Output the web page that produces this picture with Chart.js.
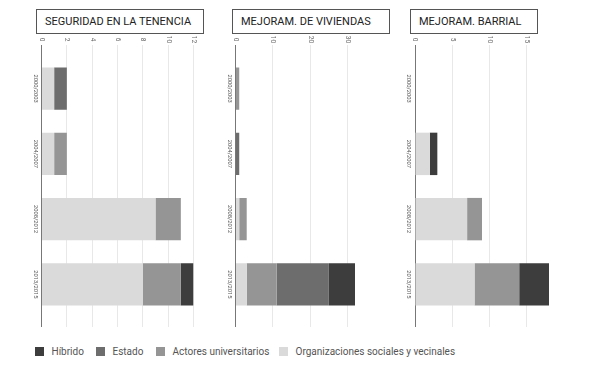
<!DOCTYPE html>
<html>
<head>
<meta charset="utf-8">
<script src="https://cdn.jsdelivr.net/npm/chart.js@4.4.1/dist/chart.umd.min.js"></script>
<style>
    body { margin: 0; background: #fff; width: 593px; height: 371px; overflow: hidden; position: relative; font-family: Roboto, sans-serif; }
    canvas { position: absolute; top: 0; }
    .title { position: absolute; top: 9px; height: 23px; border: 1px solid #555; box-sizing: content-box; color: #222; font-size: 11px; line-height: 23px; padding-left: 8px; white-space: nowrap; }
    .legend { position: absolute; top: 343px; font-size: 10px; color: #555; white-space: nowrap; }
    .legend span.box { position: absolute; top: 4px; width: 9px; height: 9px; }
    .legend span.txt { position: absolute; top: 0; line-height: 17px; }
</style>
</head>
<body>
<div class="title" style="left:36px; width:158px;">SEGURIDAD EN LA TENENCIA</div>
<div class="title" style="left:232px; width:148px;">MEJORAM. DE VIVIENDAS</div>
<div class="title" style="left:410px; width:118px;">MEJORAM. BARRIAL</div>

<canvas id="chartTenencia" width="210" height="340" style="left:0px; width:210px; height:340px;"></canvas>
<canvas id="chartViviendas" width="190" height="340" style="left:210px; width:190px; height:340px;"></canvas>
<canvas id="chartBarrial" width="193" height="340" style="left:400px; width:193px; height:340px;"></canvas>

<div class="legend" id="legend"></div>

<script>
const periods = ['2000/2003', '2004/2007', '2008/2012', '2013/2015'];
const seriesNames = ['Híbrido', 'Estado', 'Actores universitarios', 'Organizaciones sociales y vecinales'];
const seriesColors = ['#3d3d3d', '#6d6d6d', '#959595', '#dadada'];

// Seguridad en la tenencia
const tenenciaHibrido = [0, 0, 0, 1];
const tenenciaEstado = [1, 0, 0, 0];
const tenenciaActores = [0, 1, 2, 3];
const tenenciaOrganizaciones = [1, 1, 9, 8];

// Mejoramiento de viviendas
const viviendasHibrido = [0, 0, 0, 7];
const viviendasEstado = [0, 1, 0, 14];
const viviendasActores = [1, 0, 2, 8];
const viviendasOrganizaciones = [0, 0, 1, 3];

// Mejoramiento barrial
const barrialHibrido = [0, 1, 0, 4];
const barrialEstado = [0, 0, 0, 0];
const barrialActores = [0, 0, 2, 6];
const barrialOrganizaciones = [0, 2, 7, 8];

function rotatedText(ctx, text, x, y) {
    ctx.save();
    ctx.translate(x, y);
    ctx.rotate(Math.PI / 2);
    ctx.fillText(text, 0, 0);
    ctx.restore();
}

// rotated labels: periods next to the axis, values above the grid
const rotatedLabels = {
    id: 'rotatedLabels',
    afterDraw(chart) {
        const ctx = chart.ctx;
        const xScale = chart.scales.x;
        const yScale = chart.scales.y;
        ctx.save();
        ctx.fillStyle = '#555';
        ctx.textAlign = 'center';
        ctx.textBaseline = 'middle';
        ctx.font = '5.8px Roboto';
        periods.forEach((p, i) => {
            rotatedText(ctx, p, chart.chartArea.left - 6.5, yScale.getPixelForValue(i));
        });
        ctx.fillStyle = '#666';
        ctx.font = '6.5px Roboto';
        xScale.ticks.forEach(t => {
            rotatedText(ctx, String(t.value), xScale.getPixelForValue(t.value), 39.5);
        });
        ctx.restore();
    }
};

function makeChart(id, values, max, step, padding) {
    const order = [3, 2, 1, 0];
    const datasets = order.map(i => ({
        label: seriesNames[i],
        data: values[i],
        backgroundColor: seriesColors[i],
        borderWidth: 0,
        barPercentage: 0.65,
        categoryPercentage: 1
    }));
    const gridColor = c => (c.tick && c.tick.value === 0) ? '#777' : '#e8e8e8';
    new Chart(document.getElementById(id), {
        type: 'bar',
        data: { labels: periods, datasets: datasets },
        options: {
            indexAxis: 'y',
            responsive: false,
            animation: false,
            layout: { padding: padding },
            plugins: {
                legend: { display: false },
                tooltip: { enabled: false }
            },
            scales: {
                x: {
                    position: 'top',
                    stacked: true,
                    min: 0,
                    max: max,
                    grid: { color: gridColor, tickLength: 11 },
                    border: { display: false },
                    ticks: { stepSize: step, includeBounds: false, display: false }
                },
                x2: {
                    type: 'linear',
                    position: 'bottom',
                    min: 0,
                    max: max,
                    grid: { color: gridColor, tickLength: 10, drawOnChartArea: false },
                    border: { display: false },
                    ticks: { stepSize: step, includeBounds: false, display: false }
                },
                y: {
                    stacked: true,
                    display: false
                }
            }
        },
        plugins: [rotatedLabels]
    });
}

makeChart('chartTenencia',
    [tenenciaHibrido, tenenciaEstado, tenenciaActores, tenenciaOrganizaciones],
    12, 2, { left: 41.5, right: 16.5, top: 45, bottom: 13 });
makeChart('chartViviendas',
    [viviendasHibrido, viviendasEstado, viviendasActores, viviendasOrganizaciones],
    32, 10, { left: 25.5, right: 45, top: 45, bottom: 13 });
makeChart('chartBarrial',
    [barrialHibrido, barrialEstado, barrialActores, barrialOrganizaciones],
    18, 5, { left: 15, right: 44, top: 45, bottom: 13 });

// legend under the panels
const legendX = [35, 96, 156, 279];
const legend = document.getElementById('legend');
seriesNames.forEach((name, i) => {
    const box = document.createElement('span');
    box.className = 'box';
    box.style.left = legendX[i] + 'px';
    box.style.background = seriesColors[i];
    const txt = document.createElement('span');
    txt.className = 'txt';
    txt.style.left = (legendX[i] + 16.5) + 'px';
    txt.textContent = name;
    legend.appendChild(box);
    legend.appendChild(txt);
});
</script>
</body>
</html>
